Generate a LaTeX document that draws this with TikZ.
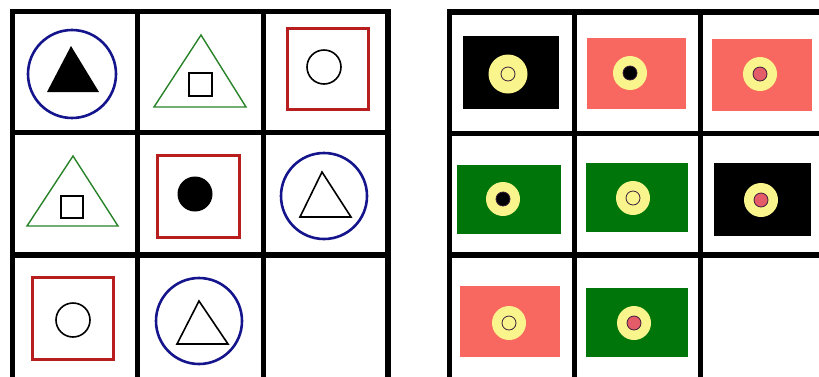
\documentclass[tikz,border=0pt]{standalone}
\usetikzlibrary{calc}
\definecolor{ringBlue}{RGB}{20,20,140}
\definecolor{boxRed}{RGB}{185,30,30}
\definecolor{triGreen}{RGB}{40,130,40}
\definecolor{cardGreen}{RGB}{0,118,10}
\definecolor{cardSalmon}{RGB}{248,104,96}
\definecolor{dotYellow}{RGB}{250,244,140}
\definecolor{dotPink}{RGB}{228,92,104}
\definecolor{dotEdge}{RGB}{60,30,60}

\begin{document}
\begin{tikzpicture}[x=1pt,y=-1pt,
    gridline/.style={line width=5.5pt},
    ring/.style={ringBlue,line width=2.6pt},
    frame/.style={boxRed,line width=3pt},
    tri/.style={triGreen,line width=1.4pt},
    inner/.style={black,line width=1.6pt}]
  \useasboundingbox (0,0) rectangle (819,376);
  \clip (0,0) rectangle (819,376);
  % left grid
  \draw[gridline] (12.5,390) -- (12.5,11.5) -- (388,11.5) -- (388,390);
  \foreach \x in {137.5,263.5} \draw[gridline] (\x,11.5) -- (\x,390);
  \foreach \y in {132.5,255} \draw[gridline] (12.5,\y) -- (388,\y);
  % row 1
  \draw[ring] (72,74) circle (44);
  \fill (47,92) -- (99,92) -- (71,46) -- cycle;
  \draw[tri] (154,107) -- (246,107) -- (201,35) -- cycle;
  \draw[inner] (189,73) rectangle (212,96);
  \draw[frame] (287,28) rectangle (368,109);
  \draw[inner] (324,67) circle (17);
  % row 2
  \draw[tri] (27,226) -- (118,226) -- (73,156) -- cycle;
  \draw[inner] (61,196) rectangle (83,218);
  \draw[frame] (157,155) rectangle (239,237);
  \fill (195,194) circle (17.5);
  \draw[ring] (324,196) circle (43);
  \draw[inner] (300,217) -- (351,217) -- (322,172) -- cycle;
  % row 3
  \draw[frame] (32,277) rectangle (113,359);
  \draw[inner] (73,320) circle (17);
  \draw[ring] (199,321) circle (43);
  \draw[inner] (177,344) -- (228,344) -- (199,301) -- cycle;

  % right grid
  \draw[gridline] (449.5,390) -- (449.5,12) -- (830,12);
  \foreach \x in {574.5,700.5} \draw[gridline] (\x,12) -- (\x,390);
  \foreach \y in {133.5,255} \draw[gridline] (449.5,\y) -- (830,\y);
  % cards: corners / card colour / centre / disk radius / dot colour
  \foreach \ax/\ay/\bx/\by/\col/\cx/\cy/\r/\dot in {
      463/36/559/109/black/508/74/19.5/dotYellow,
      587/38/686/109/cardSalmon/630/73/17/black,
      712/39/812/111/cardSalmon/760/74/17/dotPink,
      457/165/561/234/cardGreen/503/199/17/black,
      586/163/688/232/cardGreen/633/198/17/dotYellow,
      714/163/811/236/black/761/200/17/dotPink,
      460/286/560/357/cardSalmon/509/323/17/dotYellow,
      586/288/688/357/cardGreen/634/323/17/dotPink} {
    \fill[\col] (\ax,\ay) rectangle (\bx,\by);
    \fill[dotYellow] (\cx,\cy) circle (\r);
    \filldraw[fill=\dot,draw=dotEdge,line width=0.8pt] (\cx,\cy) circle (7);
  }
\end{tikzpicture}
\end{document}
